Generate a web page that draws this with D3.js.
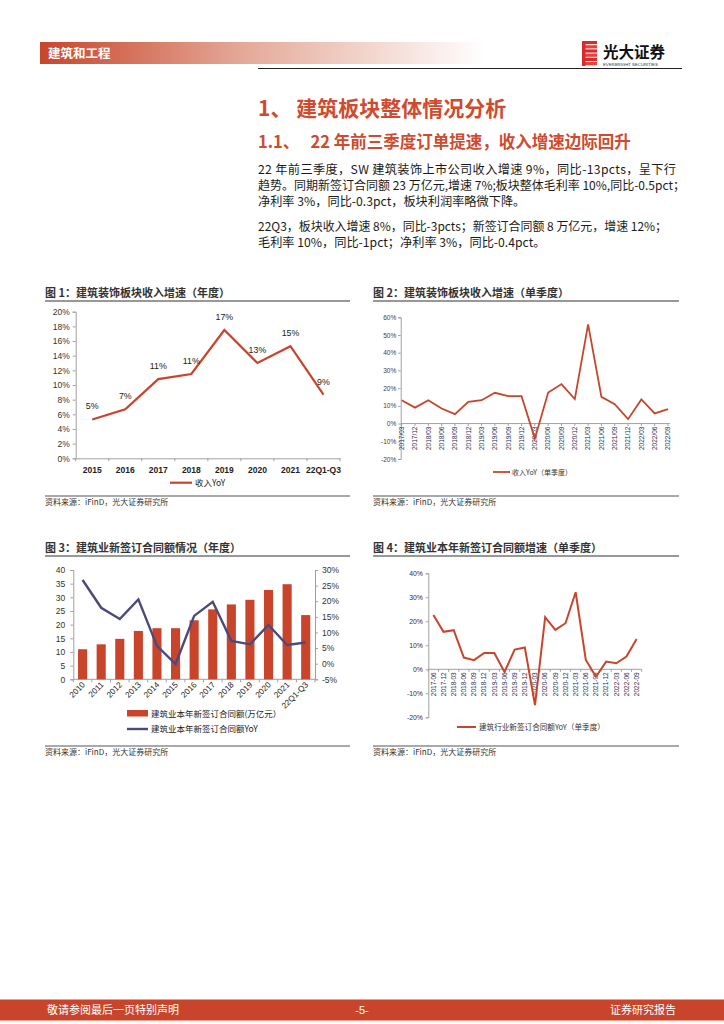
<!DOCTYPE html>
<html><head><meta charset="utf-8">
<script src="https://cdn.jsdelivr.net/npm/d3@7"></script>
<style>
body{margin:0;background:#fff}
svg{display:block}
text{font-family:"Liberation Sans","Noto Sans CJK SC",sans-serif}
.cn{font-family:"Noto Sans CJK SC","Liberation Sans",sans-serif}
</style>
</head><body>
<svg id="c" width="724" height="1024"></svg>
<script>
// ---------- DATA ----------
const c1Cats = ["2015","2016","2017","2018","2019","2020","2021","22Q1-Q3"];
const c1Vals = [5.3,6.7,10.8,11.5,17.5,13.0,15.3,8.7];
const c1Labels = ["5%","7%","11%","11%","17%","13%","15%","9%"];
const c1Ticks = [0,2,4,6,8,10,12,14,16,18,20];

const c2Cats = ["2017/03","2017/12","2018/03","2018/06","2018/09","2018/12","2019/03","2019/06","2019/09","2019/12",
  "2020/03","2020/06","2020/09","2020/12","2021/03","2021/06","2021/09","2021/12","2022/03","2022/06","2022/09"];
const c2Vals = [13.2,9.0,13.2,8.5,5.3,12.3,13.2,17.4,15.5,15.5,-8.5,17.5,22.3,13.8,56.0,15.1,10.9,2.5,13.6,5.7,8.1];
const c2Ticks = [-20,-10,0,10,20,30,40,50,60];

const c3Cats = ["2010","2011","2012","2013","2014","2015","2016","2017","2018","2019","2020","2021","22Q1-Q3"];
const c3Amount = [11.0,12.8,14.8,17.7,18.7,18.7,21.6,25.6,27.4,29.1,32.7,34.8,23.5];
const c3Yoy = [26.8,17.9,14.3,20.6,5.7,-0.1,15.3,19.8,7.3,6.2,12.4,6.0,6.8];
const c3LeftTicks = [0,5,10,15,20,25,30,35,40];
const c3RightTicks = [-5,0,5,10,15,20,25,30];

const c4Cats = ["2017-06","2017-12","2018-03","2018-06","2018-09","2018-12","2019-03","2019-06","2019-09","2019-12",
  "2020-03","2020-06","2020-09","2020-12","2021-03","2021-06","2021-09","2021-12","2022-03","2022-06","2022-09"];
const c4Vals = [22.6,15.6,16.3,4.9,3.8,6.8,6.8,-1.1,8.2,9.1,-14.9,21.7,16.4,19.2,32.1,3.9,-3.1,3.2,2.5,5.3,12.6];
const c4Ticks = [-20,-10,0,10,20,30,40];

const bodyLines = [
  "22 年前三季度，SW 建筑装饰上市公司收入增速 9%，同比-13pcts，呈下行",
  "趋势。同期新签订合同额 23 万亿元,增速 7%;板块整体毛利率 10%,同比-0.5pct；",
  "净利率 3%，同比-0.3pct，板块利润率略微下降。",
  "22Q3，板块收入增速 8%，同比-3pcts；新签订合同额 8 万亿元，增速 12%；",
  "毛利率 10%，同比-1pct；净利率 3%，同比-0.4pct。"
];

// ---------- STYLE ----------
const RED = "#C8452B", NAVY = "#4C4A7D", AX = "#A0A0A0", TXT = "#333";
const svg = d3.select("#c");
const defs = svg.append("defs");
const g1 = defs.append("linearGradient").attr("id","hdr").attr("x1","0").attr("x2","1");
g1.append("stop").attr("offset","0").attr("stop-color","#C8452B");
g1.append("stop").attr("offset","0.45").attr("stop-color","#E4A897");
g1.append("stop").attr("offset","1").attr("stop-color","#FFFFFF");

// ---------- HEADER ----------
svg.append("rect").attr("x",40).attr("y",42).attr("width",445).attr("height",22).attr("fill","url(#hdr)");
svg.append("text").attr("class","cn").attr("x",48).attr("y",58).attr("font-size",12.5).attr("font-weight","bold")
  .attr("fill","#fff").text("建筑和工程");
svg.append("line").attr("x1",258).attr("x2",682).attr("y1",68.5).attr("y2",68.5).attr("stroke","#222").attr("stroke-width",1);
// logo
const logo = svg.append("g");
[0,1,2,3,4,5].forEach(i=>{
  logo.append("rect").attr("x",582 + (i===2||i===3?3:0)).attr("y",41+i*4.2).attr("width",15-(i===2||i===3?3:0)).attr("height",3.2)
    .attr("fill", i%2? "#E8403A":"#D92B2B");
});
logo.append("rect").attr("x",582).attr("y",41).attr("width",3.5).attr("height",25).attr("fill","#D92B2B");
svg.append("text").attr("class","cn").attr("x",603).attr("y",58).attr("font-size",15.5).attr("font-weight","bold").attr("fill","#111").text("光大证券");
svg.append("text").attr("x",603).attr("y",65.5).attr("font-size",4.3).attr("fill","#333").text("EVERBRIGHT SECURITIES");

// ---------- TITLES / BODY ----------
svg.append("text").attr("class","cn").attr("x",258).attr("y",116).attr("font-size",21).attr("font-weight","bold")
  .attr("fill","#D04A2E").text("1、 建筑板块整体情况分析");
svg.append("text").attr("class","cn").attr("x",258).attr("y",148).attr("font-size",16.5).attr("font-weight","bold")
  .attr("fill","#D04A2E").attr("xml:space","preserve").text("1.1、   22 年前三季度订单提速，收入增速边际回升");
const bodyY = [174,190,206,231,247];
const bodyW = [418,427,null,409,null];
bodyLines.forEach((t,i)=>{
  const tx = svg.append("text").attr("class","cn").attr("x",258).attr("y",bodyY[i]).attr("font-size",12.2)
    .attr("fill","#1a1a1a").text(t);
  if (bodyW[i]) {
    const nat = tx.node().getComputedTextLength();
    if (nat > bodyW[i]) tx.attr("font-size", 12.2*bodyW[i]/nat);
    else tx.attr("textLength",bodyW[i]).attr("lengthAdjust","spacing");
  }
});

// ---------- helpers ----------
function chartTitle(x, y, x2, t){
  svg.append("text").attr("class","cn").attr("x",x).attr("y",y).attr("font-size",11).attr("font-weight","bold").attr("fill","#333").text(t);
  svg.append("line").attr("x1",x).attr("x2",x2).attr("y1",y+4).attr("y2",y+4).attr("stroke","#333").attr("stroke-width",1.1);
}
function source(x, y, x2){
  svg.append("line").attr("x1",x).attr("x2",x2).attr("y1",y).attr("y2",y).attr("stroke","#555").attr("stroke-width",1);
  svg.append("text").attr("class","cn").attr("x",x).attr("y",y+9).attr("font-size",8).attr("fill","#333").text("资料来源：iFinD，光大证券研究所");
}
function styleAxis(sel, fs){
  sel.select(".domain").attr("stroke",AX);
  sel.selectAll(".tick line").attr("stroke",AX);
  sel.selectAll("text").attr("font-size",fs).attr("fill",TXT).attr("font-family","Liberation Sans");
}

// ---------- CHART 1 ----------
chartTitle(45,297,350,"图 1：建筑装饰板块收入增速（年度）");
{
  const x = d3.scaleBand(c1Cats,[75.7,340]);
  const y = d3.scaleLinear([0,20],[458.3,311.7]);
  const ya = svg.append("g").attr("transform",`translate(${x.range()[0]},0)`)
    .call(d3.axisLeft(y).tickValues(c1Ticks).tickSize(3).tickPadding(3).tickFormat(d=>d+"%"));
  styleAxis(ya,8.5);
  const xa = svg.append("g").attr("transform",`translate(0,${y(0)})`)
    .call(d3.axisBottom(x).tickSize(0).tickPadding(9));
  styleAxis(xa,8.5);
  xa.selectAll("text").attr("font-weight","bold").attr("fill","#222");
  const bounds = c1Cats.map(c=>x(c)).concat([x.range()[1]]);
  svg.append("g").selectAll("line").data(bounds).join("line")
    .attr("x1",d=>d).attr("x2",d=>d).attr("y1",y(0)).attr("y2",y(0)+3).attr("stroke",AX);
  const line = d3.line().x((d,i)=>x(c1Cats[i])+x.bandwidth()/2).y(d=>y(d));
  svg.append("path").attr("d",line(c1Vals)).attr("fill","none").attr("stroke",RED).attr("stroke-width",2.2).attr("stroke-linejoin","miter");
  svg.append("g").selectAll("text").data(c1Vals).join("text")
    .attr("x",(d,i)=>x(c1Cats[i])+x.bandwidth()/2).attr("y",d=>y(d)-10)
    .attr("text-anchor","middle").attr("font-size",8.8).attr("fill","#222").text((d,i)=>c1Labels[i]);
  svg.append("line").attr("x1",170).attr("x2",192).attr("y1",482.7).attr("y2",482.7).attr("stroke",RED).attr("stroke-width",2.2);
  svg.append("text").attr("class","cn").attr("x",195).attr("y",486).attr("font-size",8.5).attr("fill","#222").text("收入YoY");
}
source(45,496,350);

// ---------- CHART 2 ----------
chartTitle(373,297,679,"图 2：建筑装饰板块收入增速（单季度）");
{
  const x = d3.scalePoint(c2Cats,[401.7,668]);
  const y = d3.scaleLinear([-20,60],[459,317.3]);
  const ya = svg.append("g").attr("transform",`translate(400.7,0)`)
    .call(d3.axisLeft(y).tickValues(c2Ticks).tickSize(2.5).tickPadding(2).tickFormat(d=>d+"%"));
  styleAxis(ya,6.5);
  ya.selectAll("text").attr("fill","#3a3a55");
  svg.append("line").attr("x1",400.7).attr("x2",670).attr("y1",y(0)).attr("y2",y(0)).attr("stroke",AX);
  svg.append("g").selectAll("line").data(c2Cats).join("line")
    .attr("x1",d=>x(d)).attr("x2",d=>x(d)).attr("y1",y(0)).attr("y2",y(0)+2.5).attr("stroke",AX);
  svg.append("g").selectAll("text").data(c2Cats).join("text")
    .attr("transform",d=>`translate(${x(d)+2.3},${y(0)+3}) rotate(-90)`)
    .attr("text-anchor","end").attr("font-size",6.5).attr("fill","#2a2a50").text(d=>d);
  const line = d3.line().x((d,i)=>x(c2Cats[i])).y(d=>y(d));
  svg.append("path").attr("d",line(c2Vals)).attr("fill","none").attr("stroke",RED).attr("stroke-width",1.8);
  svg.append("line").attr("x1",493).attr("x2",510).attr("y1",472).attr("y2",472).attr("stroke",RED).attr("stroke-width",1.8);
  svg.append("text").attr("class","cn").attr("x",512).attr("y",475).attr("font-size",7).attr("fill","#333").text("收入YoY（单季度）");
}
source(373,496,679);

// ---------- CHART 3 ----------
chartTitle(45,552,350,"图 3：建筑业新签订合同额情况（年度）");
{
  const x = d3.scaleBand(c3Cats,[73.3,315]);
  const yL = d3.scaleLinear([0,40],[679.3,570]);
  const yR = d3.scaleLinear([-5,30],[679.3,570]);
  const la = svg.append("g").attr("transform",`translate(${x.range()[0]},0)`)
    .call(d3.axisLeft(yL).tickValues(c3LeftTicks).tickSize(3).tickPadding(5));
  styleAxis(la,8.5);
  const ra = svg.append("g").attr("transform",`translate(${x.range()[1]},0)`)
    .call(d3.axisRight(yR).tickValues(c3RightTicks).tickSize(3).tickPadding(4).tickFormat(d=>d+"%"));
  styleAxis(ra,8.5);
  svg.append("line").attr("x1",x.range()[0]).attr("x2",x.range()[1]).attr("y1",yL(0)).attr("y2",yL(0)).attr("stroke",AX);
  const bounds = c3Cats.map(c=>x(c)).concat([x.range()[1]]);
  svg.append("g").selectAll("line").data(bounds).join("line")
    .attr("x1",d=>d).attr("x2",d=>d).attr("y1",yL(0)).attr("y2",yL(0)+3).attr("stroke",AX);
  const bw = x.bandwidth()*0.49;
  svg.append("g").selectAll("rect").data(c3Amount).join("rect")
    .attr("x",(d,i)=>x(c3Cats[i])+(x.bandwidth()-bw)/2).attr("width",bw)
    .attr("y",d=>yL(d)).attr("height",d=>yL(0)-yL(d)).attr("fill",RED);
  const line = d3.line().x((d,i)=>x(c3Cats[i])+x.bandwidth()/2).y(d=>yR(d));
  svg.append("path").attr("d",line(c3Yoy)).attr("fill","none").attr("stroke",NAVY).attr("stroke-width",2.4);
  svg.append("g").selectAll("text").data(c3Cats).join("text")
    .attr("transform",d=>`translate(${x(d)+x.bandwidth()/2+3},${yL(0)+6}) rotate(-45)`)
    .attr("text-anchor","end").attr("font-size",8.2).attr("fill","#222").text(d=>d);
  svg.append("rect").attr("x",127).attr("y",710).attr("width",21).attr("height",6.5).attr("fill",RED);
  svg.append("text").attr("class","cn").attr("x",151).attr("y",716.5).attr("font-size",8.5).attr("fill","#222").text("建筑业本年新签订合同额(万亿元）");
  svg.append("line").attr("x1",127).attr("x2",148).attr("y1",729).attr("y2",729).attr("stroke",NAVY).attr("stroke-width",2.4);
  svg.append("text").attr("class","cn").attr("x",151).attr("y",732).attr("font-size",8.5).attr("fill","#222").text("建筑业本年新签订合同额YoY");
}
source(45,746,350);

// ---------- CHART 4 ----------
chartTitle(373,552,679,"图 4：建筑业本年新签订合同额增速（单季度）");
{
  const x = d3.scaleBand(c4Cats,[428.3,641.7]);
  const y = d3.scaleLinear([-20,40],[717.3,573.3]);
  const ya = svg.append("g").attr("transform",`translate(${x.range()[0]},0)`)
    .call(d3.axisLeft(y).tickValues(c4Ticks).tickSize(2.5).tickPadding(3).tickFormat(d=>d+"%"));
  styleAxis(ya,6.8);
  ya.selectAll("text").attr("fill","#2a2a50");
  svg.append("line").attr("x1",x.range()[0]).attr("x2",x.range()[1]).attr("y1",y(0)).attr("y2",y(0)).attr("stroke",AX);
  const bounds = c4Cats.map(c=>x(c)).concat([x.range()[1]]);
  svg.append("g").selectAll("line").data(bounds).join("line")
    .attr("x1",d=>d).attr("x2",d=>d).attr("y1",y(0)).attr("y2",y(0)+2.5).attr("stroke",AX);
  svg.append("g").selectAll("text").data(c4Cats).join("text")
    .attr("transform",d=>`translate(${x(d)+x.bandwidth()/2+2.3},${y(0)+3}) rotate(-90)`)
    .attr("text-anchor","end").attr("font-size",6.5).attr("fill","#2a2a50").text(d=>d);
  const line = d3.line().x((d,i)=>x(c4Cats[i])+x.bandwidth()/2).y(d=>y(d));
  svg.append("path").attr("d",line(c4Vals)).attr("fill","none").attr("stroke",RED).attr("stroke-width",2);
  svg.append("line").attr("x1",457).attr("x2",476).attr("y1",727).attr("y2",727).attr("stroke",RED).attr("stroke-width",2);
  svg.append("text").attr("class","cn").attr("x",479).attr("y",730).attr("font-size",7.6).attr("fill","#333").text("建筑行业新签订合同额YoY（单季度）");
}
source(373,746,679);

// ---------- FOOTER ----------
svg.append("rect").attr("x",0).attr("y",999).attr("width",724).attr("height",22).attr("fill",RED);
svg.append("line").attr("x1",0).attr("x2",724).attr("y1",999.5).attr("y2",999.5).attr("stroke","#E8A090");
svg.append("line").attr("x1",0).attr("x2",724).attr("y1",1020.5).attr("y2",1020.5).attr("stroke","#E8A090");
svg.append("text").attr("class","cn").attr("x",47).attr("y",1014).attr("font-size",11).attr("fill","#fff").text("敬请参阅最后一页特别声明");
svg.append("text").attr("x",362).attr("y",1014).attr("text-anchor","middle").attr("font-size",11).attr("fill","#fff").text("-5-");
svg.append("text").attr("class","cn").attr("x",676).attr("y",1014).attr("text-anchor","end").attr("font-size",11).attr("fill","#fff").text("证券研究报告");
</script>
</body></html>
